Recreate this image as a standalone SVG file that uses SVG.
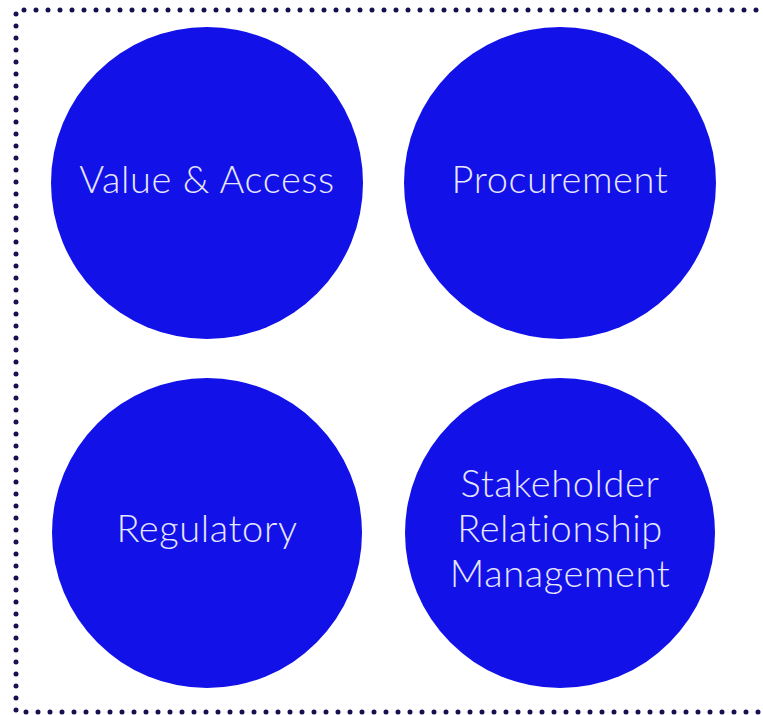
<svg xmlns="http://www.w3.org/2000/svg" width="763" height="715" viewBox="0 0 763 715">
<style>
.c{fill:#1111E8}
.t{fill:#E6E6FF;font-family:Lato,"Open Sans",sans-serif;font-weight:300;font-size:38px;letter-spacing:0.6px;font-variant-ligatures:none;text-anchor:middle}
.b{fill:none;stroke:#16124F;stroke-width:5;stroke-linecap:round;stroke-dasharray:0 12}
</style>
<rect width="763" height="715" fill="#fff"/>
<path class="b" d="M780 10 H16 V712 H780"/>
<g id="value-access"><circle class="c" cx="207" cy="183" r="156"/><text class="t" x="207" y="193">Value &amp; Access</text></g>
<g id="procurement"><circle class="c" cx="560" cy="183" r="156"/><text class="t" x="560" y="193">Procurement</text></g>
<g id="regulatory"><circle class="c" cx="207" cy="533" r="155"/><text class="t" x="207" y="542">Regulatory</text></g>
<g id="stakeholder"><circle class="c" cx="560" cy="533" r="155"/><text class="t" x="560" y="497">Stakeholder</text><text class="t" x="560" y="542">Relationship</text><text class="t" x="560" y="587">Management</text></g>
</svg>
